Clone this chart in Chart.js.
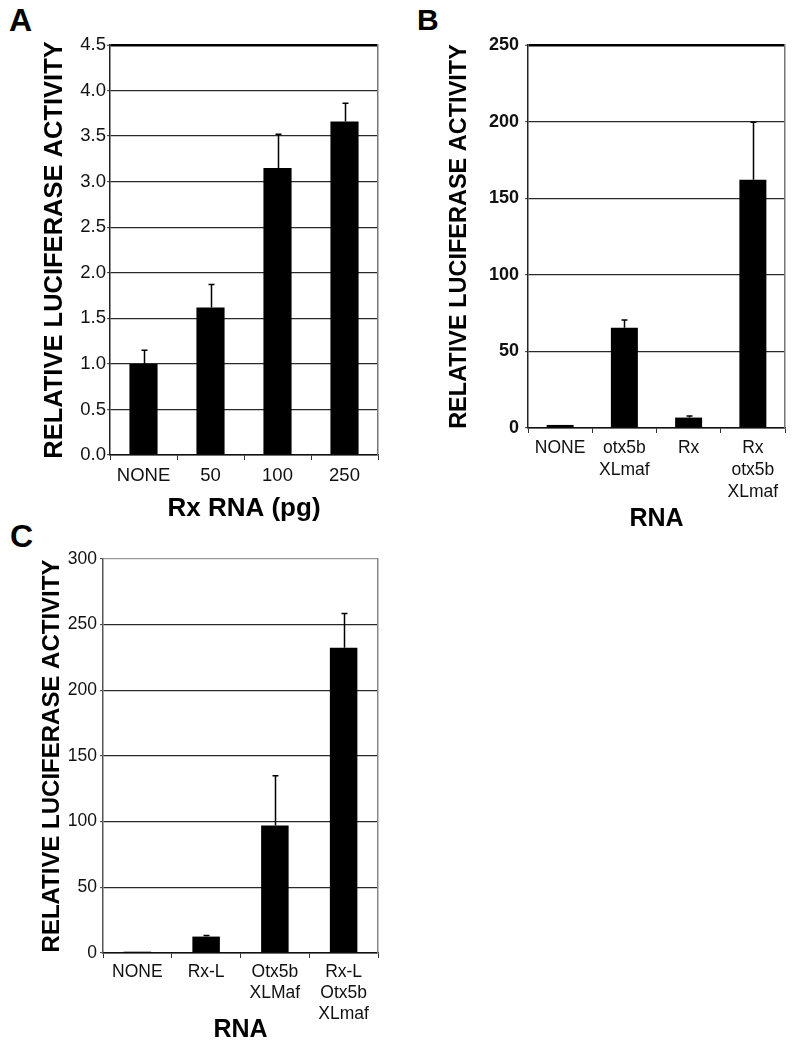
<!DOCTYPE html>
<html><head><meta charset="utf-8">
<script src="https://cdn.jsdelivr.net/npm/chart.js@4"></script>
<style>
html,body{margin:0;padding:0;background:#fff;}
body{width:794px;height:1050px;position:relative;overflow:hidden;font-family:"Liberation Sans",Arial,sans-serif;}
.wrap{position:absolute;}
.lbl{position:absolute;font-weight:bold;font-size:32px;line-height:32px;color:#000;}
</style></head><body>
<div class="lbl" style="left:9px;top:4px">A</div>
<div class="lbl" style="left:417px;top:4px;font-size:30px">B</div>
<div class="lbl" style="left:10px;top:520px">C</div>
<div class="wrap" style="left:0;top:0;width:400px;height:530px"><canvas id="cA"></canvas></div>
<div class="wrap" style="left:400px;top:0;width:394px;height:540px"><canvas id="cB"></canvas></div>
<div class="wrap" style="left:0;top:520px;width:400px;height:530px"><canvas id="cC"></canvas></div>
<script>
// ---- Data ----
const yTitle = 'RELATIVE LUCIFERASE ACTIVITY';

const catsA = ['NONE', '50', '100', '250'];
const valsA = [1.0, 1.62, 3.15, 3.66];
const errA  = [0.15, 0.25, 0.37, 0.20];
const xTitleA = 'Rx RNA (pg)';
const yMaxA = 4.5, yStepA = 0.5;

const catsB = ['NONE', ['otx5b', 'XLmaf'], 'Rx', ['Rx', 'otx5b', 'XLmaf']];
const valsB = [2, 65.5, 6.8, 162];
const errB  = [0, 5, 1, 37.5];
const xTitleB = 'RNA';
const yMaxB = 250, yStepB = 50;

const catsC = ['NONE', 'Rx-L', ['Otx5b', 'XLMaf'], ['Rx-L', 'Otx5b', 'XLmaf']];
const valsC = [1, 12.5, 97, 232.5];
const errC  = [0, 0.8, 38, 26];
const xTitleC = 'RNA';
const yMaxC = 300, yStepC = 50;

const FAM = '"Liberation Sans", Arial, Helvetica, sans-serif';

const errorBars = {
  id: 'errorBars',
  afterDatasetsDraw(chart, args, opts) {
    const errs = opts.errors; if (!errs) return;
    const meta = chart.getDatasetMeta(0);
    const ys = chart.scales.y;
    const ctx = chart.ctx;
    const data = chart.data.datasets[0].data;
    ctx.save();
    ctx.strokeStyle = '#000';
    ctx.lineWidth = 1.5;
    meta.data.forEach((bar, i) => {
      const e = errs[i]; if (!e) return;
      const yTop = ys.getPixelForValue(data[i] + e);
      const yBase = ys.getPixelForValue(data[i]);
      const x = Math.round(bar.x) + 0.5;
      ctx.beginPath();
      ctx.moveTo(x, yBase); ctx.lineTo(x, yTop);
      ctx.moveTo(x - 3, yTop); ctx.lineTo(x + 3, yTop);
      ctx.stroke();
    });
    ctx.restore();
  }
};

function makeChart(id, p) {
  return new Chart(document.getElementById(id), {
    type: 'bar',
    data: { labels: p.cats, datasets: [{ data: p.vals, backgroundColor: '#000', borderWidth: 0,
      barPercentage: p.barPct, categoryPercentage: 1, minBarLength: 1 }] },
    plugins: [errorBars],
    options: {
      responsive: true, maintainAspectRatio: false, animation: false,
      layout: { padding: { left: 0, top: p.top, right: p.right, bottom: 0 } },
      plugins: { legend: { display: false }, tooltip: { enabled: false }, errorBars: { errors: p.errs } },
      scales: {
        x: {
          grid: { offset: true, drawOnChartArea: false,
            tickLength: 5, tickColor: '#333', tickWidth: 1 },
          border: { color: '#111', width: 1.5 },
          ticks: { font: { family: FAM, size: p.xFont, lineHeight: p.xLH }, color: '#111',
            padding: p.xPad, maxRotation: 0, minRotation: 0, autoSkip: false },
          title: { display: true, text: p.xTitle, color: '#000',
            font: { family: FAM, size: p.xtSize, weight: 'bold', lineHeight: 1.2 },
            padding: { top: 0, bottom: p.xtPad } },
          afterFit: s => { s.height = p.xH; }
        },
        y: {
          min: 0, max: p.yMax,
          ticks: { stepSize: p.yStep, font: { family: FAM, size: p.yFont, weight: p.yBold ? 'bold' : 'normal' },
            color: '#111', padding: p.yPad, callback: p.yFmt },
          grid: {
            color: c => (c.tick && Math.abs(c.tick.value - p.yMax) < 1e-9) ? p.topColor : '#2a2a2a',
            lineWidth: c => (c.tick && Math.abs(c.tick.value - p.yMax) < 1e-9) ? p.topW : 1.3,
            tickLength: 3, tickColor: '#333', tickWidth: 1
          },
          border: { color: p.leftColor, width: 1.5 },
          title: { display: true, text: yTitle, color: '#000',
            font: { family: FAM, size: p.ytSize, weight: 'bold', lineHeight: 1 },
            padding: { top: p.ytPad, bottom: 0 } },
          afterFit: s => { s.width = p.yW; }
        },
        yRight: {
          type: 'linear', position: 'right', min: 0, max: p.yMax,
          ticks: { display: false },
          grid: { drawOnChartArea: false, drawTicks: false },
          border: { display: true, color: p.rightColor, width: 1.5 },
          afterFit: s => { s.width = 0; }
        }
      }
    }
  });
}

makeChart('cA', { cats: catsA, vals: valsA, errs: errA, xTitle: xTitleA, yMax: yMaxA, yStep: yStepA,
  barPct: 0.42, top: 45, right: 22, yW: 110, xH: 75,
  xFont: 18.5, xLH: 1.2, xPad: 5, xtSize: 26, xtPad: 6,
  yFont: 18.5, yBold: false, yPad: 1, ytSize: 25.5, ytPad: 42,
  yFmt: v => Number(v).toFixed(1), topColor: '#000', topW: 2.5, rightColor: '#777', leftColor: '#222' });

makeChart('cB', { cats: catsB, vals: valsB, errs: errB, xTitle: xTitleB, yMax: yMaxB, yStep: yStepB,
  barPct: 0.42, top: 45, right: 9, yW: 128, xH: 112,
  xFont: 17.5, xLH: 1.27, xPad: 4, xtSize: 25, xtPad: 6,
  yFont: 18, yBold: true, yPad: 6, ytSize: 23.5, ytPad: 48,
  yFmt: v => String(v), topColor: '#000', topW: 2.5, rightColor: '#777', leftColor: '#222' });

makeChart('cC', { cats: catsC, vals: valsC, errs: errC, xTitle: xTitleC, yMax: yMaxC, yStep: yStepC,
  barPct: 0.40, top: 39, right: 22, yW: 103, xH: 97,
  xFont: 17.5, xLH: 1.2, xPad: 4, xtSize: 25, xtPad: 5,
  yFont: 17.5, yBold: false, yPad: 3, ytSize: 24, ytPad: 40,
  yFmt: v => String(v), topColor: '#999', topW: 1.2, rightColor: '#888', leftColor: '#555' });
</script>
</body></html>
